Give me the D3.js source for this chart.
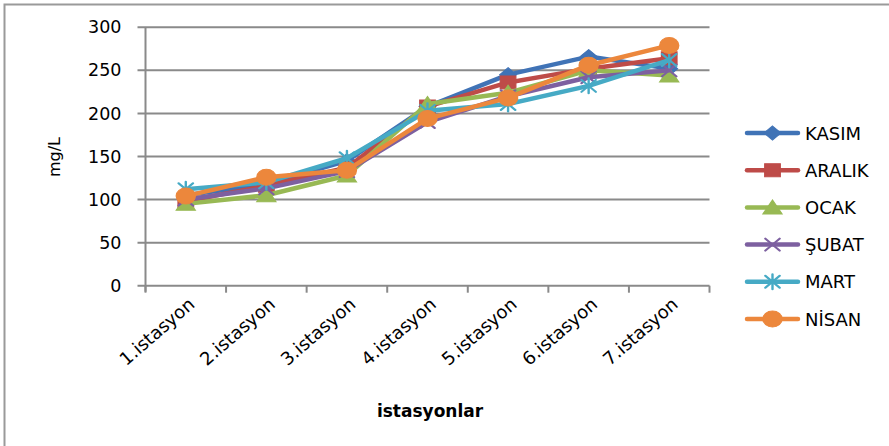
<!DOCTYPE html>
<html>
<head>
<meta charset="utf-8">
<script src="https://cdn.jsdelivr.net/npm/d3@7"></script>
<style>
  body { margin: 0; background: #fff; }
  text { font-family: "DejaVu Sans", sans-serif; fill: #000; }
</style>
</head>
<body>
<svg id="chart" width="889" height="446"></svg>
<script>
// Monthly concentrations (mg/L) at each sampling station
const stations = ["1.istasyon", "2.istasyon", "3.istasyon", "4.istasyon", "5.istasyon", "6.istasyon", "7.istasyon"];
const kasim  = [105, 118, 145, 208, 245, 266, 252];
const aralik = [ 98, 116, 137, 208, 236, 252, 264];
const ocak   = [ 95, 105, 128, 211, 224, 250, 244];
const subat  = [100, 113, 133, 190, 220, 242, 250];
const mart   = [112, 120, 148, 203, 211, 232, 262];
const nisan  = [104, 126, 134, 194, 218, 256, 279];
const yTicks = [0, 50, 100, 150, 200, 250, 300];

const series = [
  { name: "KASIM",  values: kasim,  color: "#4073B6", marker: "diamond" },
  { name: "ARALIK", values: aralik, color: "#BE4B48", marker: "square" },
  { name: "OCAK",   values: ocak,   color: "#98B954", marker: "triangle" },
  { name: "ŞUBAT",  values: subat,  color: "#7D60A0", marker: "cross" },
  { name: "MART",   values: mart,   color: "#46AAC5", marker: "star" },
  { name: "NİSAN",  values: nisan,  color: "#EC873C", marker: "circle" }
];

const svg = d3.select("#chart");
const gridColor = "#8a8a8a";
const plot = { left: 145.5, right: 709.5, top: 27.3, bottom: 285.7 };

const x = d3.scaleBand().domain(stations).range([plot.left, plot.right]);
const y = d3.scaleLinear().domain([0, 300]).range([plot.bottom, plot.top]);

// Outer frame (left and top edges)
svg.append("path")
  .attr("d", "M4.5,446V4.5H889")
  .attr("fill", "none").attr("stroke", "#9a9a9a").attr("stroke-width", 2);

// Horizontal gridlines with value labels
const yAxis = svg.append("g")
  .attr("transform", `translate(${plot.left},0)`)
  .call(d3.axisLeft(y).tickValues(yTicks).tickSize(0).tickPadding(24));
yAxis.select(".domain").remove();
yAxis.selectAll(".tick line").remove();
yAxis.selectAll(".tick text")
  .attr("font-size", 17.5).attr("font-family", "DejaVu Sans").attr("fill", "#000");
svg.append("g").selectAll("line").data(yTicks).join("line")
  .attr("x1", plot.left - 8).attr("x2", plot.right)
  .attr("y1", d => y(d)).attr("y2", d => y(d))
  .attr("stroke", gridColor).attr("stroke-width", 2);

// Vertical axis line
svg.append("line")
  .attr("x1", plot.left).attr("x2", plot.left)
  .attr("y1", plot.top).attr("y2", plot.bottom + 6)
  .attr("stroke", gridColor).attr("stroke-width", 2);

// Category boundary ticks on the horizontal axis
const bounds = d3.range(stations.length + 1).map(i => plot.left + i * x.step());
svg.append("g").selectAll("line").data(bounds).join("line")
  .attr("x1", d => d).attr("x2", d => d)
  .attr("y1", plot.bottom).attr("y2", plot.bottom + 7)
  .attr("stroke", gridColor).attr("stroke-width", 2);

// Category labels, rotated
const xAxis = svg.append("g")
  .attr("transform", `translate(0,${plot.bottom})`)
  .call(d3.axisBottom(x).tickSize(0));
xAxis.select(".domain").remove();
xAxis.selectAll(".tick text")
  .attr("font-size", 18).attr("font-family", "DejaVu Sans").attr("fill", "#000")
  .attr("text-anchor", "end")
  .attr("dy", 0)
  .attr("transform", "translate(8,18) rotate(-41)");

// Axis titles
svg.append("text")
  .attr("x", 430).attr("y", 417)
  .attr("text-anchor", "middle")
  .attr("font-size", 17).attr("font-weight", "bold")
  .text("istasyonlar");
svg.append("text")
  .attr("transform", "translate(60,157) rotate(-90)")
  .attr("text-anchor", "middle")
  .attr("font-size", 16)
  .text("mg/L");

// Marker shapes (slightly wider than tall)
const sx = 1.2;
function markerPath(type) {
  switch (type) {
    case "diamond":  return "M0,-7L7,0L0,7L-7,0Z";
    case "square":   return "M-6.5,-6.5H6.5V6.5H-6.5Z";
    case "triangle": return "M0,-7.5L8,6.5H-8Z";
    case "cross":    return "M-6,-6L6,6M-6,6L6,-6";
    case "star":     return "M-6,-6L6,6M-6,6L6,-6M0,-7.5V7.5";
    case "circle":   return "M-8,0A8,8 0 1,0 8,0A8,8 0 1,0 -8,0Z";
  }
}
function drawMarker(g, type, color) {
  const open = type === "cross" || type === "star";
  g.append("path")
    .attr("d", markerPath(type))
    .attr("transform", `scale(${sx},1)`)
    .attr("fill", open ? "none" : color)
    .attr("stroke", color)
    .attr("stroke-width", open ? 2 : 1)
    .attr("stroke-linecap", "round");
}

const line = d3.line()
  .x((d, i) => x(stations[i]) + x.bandwidth() / 2)
  .y(d => y(d));

series.forEach(s => {
  const g = svg.append("g");
  g.append("path")
    .attr("d", line(s.values))
    .attr("fill", "none")
    .attr("stroke", s.color)
    .attr("stroke-width", 4.5)
    .attr("stroke-linejoin", "round")
    .attr("stroke-linecap", "round");
  s.values.forEach((v, i) => {
    const m = g.append("g")
      .attr("transform", `translate(${x(stations[i]) + x.bandwidth() / 2},${y(v)})`);
    drawMarker(m, s.marker, s.color);
  });
});

// Legend
const legend = svg.append("g");
series.forEach((s, i) => {
  const cy = 133 + i * 37.2;
  const row = legend.append("g").attr("transform", `translate(0,${cy})`);
  row.append("line")
    .attr("x1", 747).attr("x2", 798)
    .attr("stroke", s.color).attr("stroke-width", 4.5)
    .attr("stroke-linecap", "round");
  drawMarker(row.append("g").attr("transform", "translate(772.5,0)"), s.marker, s.color);
  row.append("text")
    .attr("x", 805).attr("y", 6.5)
    .attr("font-size", 18)
    .text(s.name);
});
</script>
</body>
</html>
